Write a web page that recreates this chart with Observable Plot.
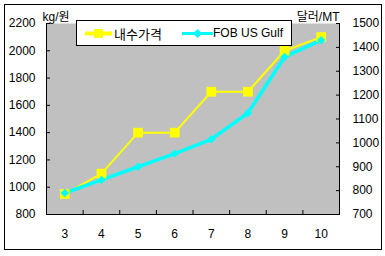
<!DOCTYPE html>
<html><head><meta charset="utf-8">
<script src="https://cdn.jsdelivr.net/npm/d3@7"></script>
<script src="https://cdn.jsdelivr.net/npm/@observablehq/plot@0.6"></script>
<style>
body{margin:0;background:#fff;}
#wrap{position:relative;width:385px;height:256px;}
#legend{position:absolute;left:76px;top:20px;width:216px;height:26px;background:#fff;border:1px solid #000;box-sizing:border-box;
 font-family:'Liberation Sans',Arial,'Noto Sans CJK KR',sans-serif;font-size:12px;color:#000;}
#legend .item{position:absolute;top:0;height:24px;display:flex;align-items:center;}
#legend svg{display:block;}
</style></head>
<body><div id="wrap"></div>
<script>
const months = [3, 4, 5, 6, 7, 8, 9, 10];
const domestic = [950, 1100, 1400, 1400, 1700, 1700, 2000, 2100];
const fob = [790, 845, 900, 955, 1015, 1125, 1360, 1430];
const leftTicks = [800, 1000, 1200, 1400, 1600, 1800, 2000, 2200];
const rightTicks = [700, 800, 900, 1000, 1100, 1200, 1300, 1400, 1500];
const seriesNames = ["내수가격", "FOB US Gulf"];
const seriesColors = ["#ffff00", "#00ffff"];
const leftUnit = "kg/원";
const rightUnit = "달러/MT";

const leftDomain = [leftTicks[0], leftTicks[leftTicks.length - 1]];
const rightDomain = [rightTicks[0], rightTicks[rightTicks.length - 1]];
const k = (leftDomain[1] - leftDomain[0]) / (rightDomain[1] - rightDomain[0]);
const toLeft = v => leftDomain[0] + (v - rightDomain[0]) * k;
const fromLeft = v => rightDomain[0] + (v - leftDomain[0]) / k;
const xDomain = [months[0] - 0.5, months[months.length - 1] + 0.5];
const bounds = months.slice(1).map(m => m - 0.5);

const dataA = months.map((m, i) => ({m, v: domestic[i]}));
const dataB = months.map((m, i) => ({m, v: toLeft(fob[i])}));

const plot = Plot.plot({
  width: 385, height: 256,
  marginLeft: 46, marginRight: 46, marginTop: 23, marginBottom: 42,
  x: {domain: xDomain},
  y: {domain: leftDomain},
  style: {fontFamily: "'Liberation Sans',Arial,'Noto Sans CJK KR',sans-serif", fontSize: "12px", color: "#000", background: "#fff", overflow: "visible"},
  marks: [
    Plot.frame({fill: "#c0c0c0", stroke: null}),
    Plot.frame({stroke: "#000", fill: "none", insetLeft: -42, insetTop: -19, insetRight: -42, insetBottom: -35}),
    Plot.ruleX(xDomain, {stroke: "#000"}),
    Plot.ruleY([leftDomain[0]], {stroke: "#000"}),
    Plot.axisY(leftTicks, {anchor: "left", tickSize: -4, tickFormat: () => "", label: null}),
    Plot.axisY(leftTicks, {anchor: "left", tickSize: 0, tickPadding: 11, tickFormat: d => String(d), label: null}),
    Plot.axisY(rightTicks.map(toLeft), {anchor: "right", tickSize: -4, tickFormat: () => "", label: null}),
    Plot.axisY(rightTicks.map(toLeft), {anchor: "right", tickSize: 0, tickPadding: 13, tickFormat: d => String(Math.round(fromLeft(d))), label: null}),
    Plot.axisX(bounds, {anchor: "bottom", tickSize: -4, tickFormat: () => "", label: null}),
    Plot.axisX(months, {anchor: "bottom", tickSize: 0, tickPadding: 15, tickFormat: d => String(d), label: null}),
    Plot.line(dataA, {x: "m", y: "v", stroke: seriesColors[0], strokeWidth: 2}),
    Plot.line(dataB, {x: "m", y: "v", stroke: seriesColors[1], strokeWidth: 3.5}),
    Plot.dot(dataA, {x: "m", y: "v", symbol: "square", r: 5.5, fill: seriesColors[0], stroke: null}),
    Plot.dot(dataB, {x: "m", y: "v", symbol: "diamond2", r: 3.8, fill: seriesColors[1], stroke: null}),
    Plot.text([leftUnit], {frameAnchor: "top-left", textAnchor: "start", lineAnchor: "bottom", dx: -4, dy: -3, fill: "#000"}),
    Plot.text([rightUnit], {frameAnchor: "top-right", textAnchor: "end", lineAnchor: "bottom", dx: 0, dy: -3, fill: "#000"})
  ]
});
const wrap = document.getElementById("wrap");
wrap.appendChild(plot);

const legend = document.createElement("div");
legend.id = "legend";
const itemDefs = [
  {left: 8, lineW: 27, sw: 4, marker: `<rect x="9" y="8" width="9" height="9" fill="${seriesColors[0]}"/>`, gap: 2},
  {left: 105, lineW: 31, sw: 3, marker: `<path d="M15.5 8 L20 12.5 L15.5 17 L11 12.5 Z" fill="${seriesColors[1]}"/>`, gap: 0}
];
itemDefs.forEach((d, i) => {
  const it = document.createElement("div");
  it.className = "item";
  it.style.left = d.left + "px";
  const fs = i === 0 ? "13px" : "12px";
  it.innerHTML = `<svg width="${d.lineW}" height="24"><line x1="0" x2="${d.lineW}" y1="12.5" y2="12.5" stroke="${seriesColors[i]}" stroke-width="${d.sw}"/>${d.marker}</svg><span style="margin-left:${d.gap}px;font-size:${fs}">${seriesNames[i]}</span>`;
  legend.appendChild(it);
});
wrap.appendChild(legend);
</script>
</body></html>
